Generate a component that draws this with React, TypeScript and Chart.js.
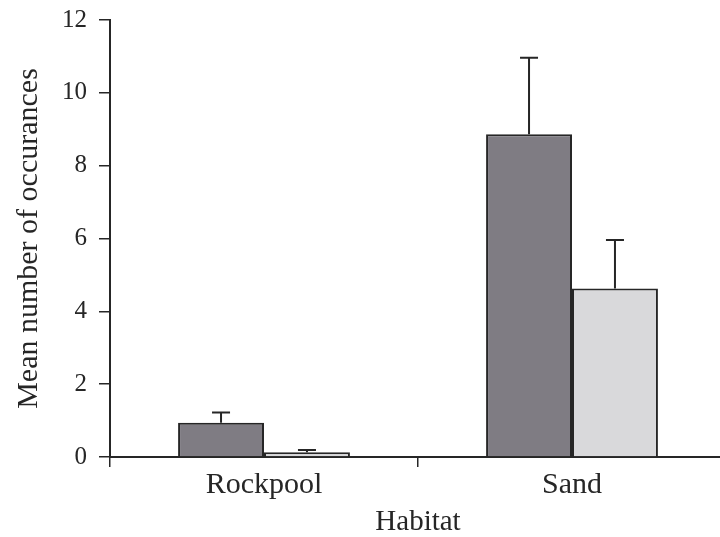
import React, { useEffect, useRef } from "react";
import { Chart, registerables } from "chart.js";

Chart.register(...registerables);

const categories = ["Rockpool", "Sand"];
const darkValues = [0.94, 8.86];
const darkErrors = [1.22, 10.96];
const lightValues = [0.13, 4.63];
const lightErrors = [0.19, 5.96];
const yTicks = [0, 2, 4, 6, 8, 10, 12];

const FONT = "'Liberation Serif', 'Times New Roman', serif";
const INK = "#262626";

const errorBarPlugin = {
  id: "errorBars",
  afterDatasetsDraw(chart: any) {
    const ctx = chart.ctx;
    const yScale = chart.scales.y;
    chart.data.datasets.forEach((ds: any, i: number) => {
      const meta = chart.getDatasetMeta(i);
      const errs: number[] = ds.errorTops || [];
      meta.data.forEach((bar: any, j: number) => {
        const top = yScale.getPixelForValue(errs[j]);
        const x = bar.x;
        ctx.save();
        ctx.strokeStyle = INK;
        ctx.lineWidth = 2;
        ctx.beginPath();
        ctx.moveTo(x, bar.y);
        ctx.lineTo(x, top);
        ctx.moveTo(x - 9, top);
        ctx.lineTo(x + 9, top);
        ctx.stroke();
        ctx.restore();
      });
    });
  },
};

export default function App() {
  const ref = useRef<HTMLCanvasElement>(null);
  useEffect(() => {
    if (!ref.current) return;
    const chart = new Chart(ref.current, {
      type: "bar",
      data: {
        labels: categories,
        datasets: [
          {
            data: darkValues,
            errorTops: darkErrors,
            backgroundColor: "#7f7c83",
            borderColor: INK,
            borderWidth: 2,
          } as any,
          {
            data: lightValues,
            errorTops: lightErrors,
            backgroundColor: "#d9d9db",
            borderColor: INK,
            borderWidth: 2,
          } as any,
        ],
      },
      options: {
        animation: false,
        responsive: true,
        maintainAspectRatio: false,
        layout: { padding: { top: 20, right: 6, left: 0, bottom: 0 } },
        plugins: { legend: { display: false }, tooltip: { enabled: false } },
        datasets: { bar: { categoryPercentage: 0.558, barPercentage: 1 } },
        scales: {
          x: {
            type: "category",
            offset: true,
            grid: {
              offset: true,
              drawOnChartArea: false,
              drawTicks: true,
              tickLength: 10,
              color: INK,
              lineWidth: 1.5,
            },
            border: { display: true, color: INK, width: 2 },
            ticks: {
              color: INK,
              font: { family: FONT, size: 30 },
              padding: 0,
              maxRotation: 0,
            },
            title: {
              display: true,
              text: "Habitat",
              color: INK,
              font: { family: FONT, size: 29, lineHeight: 1 },
              padding: { top: 0, bottom: 0 },
            },
            afterFit(scale: any) {
              scale.height = 80;
              scale.paddingLeft = 0;
              scale.paddingRight = 0;
            },
          },
          y: {
            min: 0,
            max: 12,
            afterBuildTicks(scale: any) {
              scale.ticks = yTicks.map((v) => ({ value: v }));
            },
            grid: {
              drawOnChartArea: false,
              drawTicks: true,
              tickLength: 11,
              color: INK,
              lineWidth: 1.5,
            },
            border: { display: true, color: INK, width: 2 },
            ticks: {
              color: INK,
              font: { family: FONT, size: 25 },
              padding: 12,
            },
            title: {
              display: true,
              text: "Mean number of occurances",
              color: INK,
              font: { family: FONT, size: 30, lineHeight: 1 },
              padding: { top: 14, bottom: 0 },
            },
            afterFit(scale: any) {
              scale.width = 110;
              scale.paddingTop = 0;
              scale.paddingBottom = 0;
            },
          },
        },
      },
      plugins: [errorBarPlugin],
    } as any);
    return () => chart.destroy();
  }, []);
  return (
    <div
      style={{
        position: "fixed",
        left: 0,
        top: 0,
        width: 720,
        height: 537,
        overflow: "hidden",
        background: "#fff",
      }}
    >
      <div style={{ position: "relative", width: 732, height: 537 }}>
        <canvas ref={ref} />
      </div>
    </div>
  );
}
